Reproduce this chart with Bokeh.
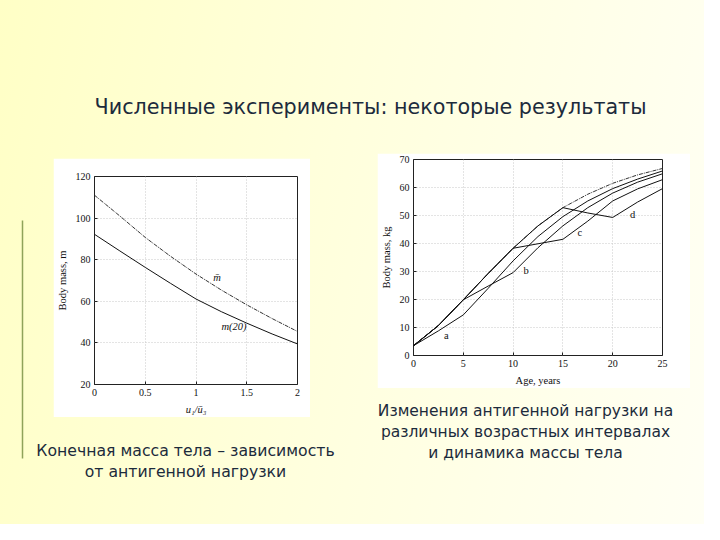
from bokeh.plotting import figure
from bokeh.layouts import column, row
from bokeh.models import Spacer, Label, Range1d
from bokeh.core.properties import value
from bokeh.embed import file_html
from bokeh.resources import INLINE

# ---------------- data ----------------
title_text = "Численные эксперименты: некоторые результаты"
left_caption = ["Конечная масса тела – зависимость", "от антигенной нагрузки"]
right_caption = ["Изменения антигенной нагрузки на",
                 "различных возрастных интервалах",
                 "и динамика массы тела"]

load_ratio = [0, 0.25, 0.5, 0.75, 1.0, 1.25, 1.5, 1.75, 2.0]
m_bar = [111.0, 101.0, 90.7, 81.6, 73.1, 65.4, 58.3, 51.7, 45.5]
m_20 = [92.2, 84.2, 76.3, 68.6, 61.1, 55.0, 49.5, 44.3, 39.5]
left_label_text = ["m̄", "m(20)"]
left_label_x = [1.17, 1.25]
left_label_y = [71.5, 48.0]

age = [0, 2.5, 5, 7.5, 10, 12.5, 15, 17.5, 20, 22.5, 25]
mass_base = [3.5, 10.7, 19.9, 29.3, 38.3, 46.3, 52.8, 57.6, 61.5, 64.5, 66.8]
mass_a = [3.5, 8.8, 14.5, 24.0, 33.8, 42.5, 49.6, 55.2, 59.6, 63.0, 65.9]
mass_b = [3.5, 10.7, 19.9, 24.8, 29.6, 38.5, 46.3, 52.8, 58.0, 61.9, 64.9]
mass_c = [3.5, 10.7, 19.9, 29.3, 38.3, 39.9, 41.5, 48.0, 55.2, 59.5, 62.8]
mass_d = [3.5, 10.7, 19.9, 29.3, 38.3, 46.3, 52.8, 50.9, 49.3, 54.8, 59.6]
right_label_text = ["a", "b", "c", "d"]
right_label_x = [3.3, 11.3, 16.7, 22.0]
right_label_y = [7.0, 30.5, 44.0, 50.5]

left_xticks = [0, 0.5, 1, 1.5, 2]
left_yticks = [20, 40, 60, 80, 100, 120]
right_xticks = [0, 5, 10, 15, 20, 25]
right_yticks = [0, 10, 20, 30, 40, 50, 60, 70]

# ---------------- styles ----------------
SERIF = "Liberation Serif"
SANS = "DejaVu Sans"
TXT = "#1c2b3c"
GREEN = "#8fa35a"


def blank(w, h):
    p = figure(width=w, height=h, x_range=Range1d(0, w), y_range=Range1d(h, 0),
               x_axis_type=None, y_axis_type=None, toolbar_location=None,
               output_backend="svg", min_border=0)
    p.grid.visible = False
    p.outline_line_color = None
    p.background_fill_color = None
    p.border_fill_color = None
    return p


def style_chart(p, xticks, yticks):
    p.background_fill_color = "white"
    p.border_fill_color = "white"
    p.outline_line_color = "#222222"
    p.outline_line_width = 1
    for ax in (p.xaxis[0], p.yaxis[0]):
        ax.axis_line_color = None
        ax.major_tick_in = 3
        ax.major_tick_out = 0
        ax.minor_tick_line_color = None
        ax.major_tick_line_color = "#222222"
        ax.major_label_text_font = SERIF
        ax.major_label_text_font_size = "10px"
        ax.major_label_text_color = "#111111"
        ax.axis_label_text_font = SERIF
        ax.axis_label_text_font_size = "10.5px"
        ax.axis_label_text_font_style = "normal"
        ax.axis_label_text_color = "#111111"
        ax.major_label_standoff = 4
        ax.axis_label_standoff = 5
    p.xaxis[0].ticker = xticks
    p.yaxis[0].ticker = yticks
    p.grid.grid_line_color = "#c8c8c8"
    p.grid.grid_line_dash = "1 2"
    p.grid.grid_line_width = 1


# ---------------- title ----------------
title_fig = blank(704, 153)
title_fig.add_layout(Label(x=370, y=153 - 106, x_units="screen", y_units="screen",
                           text=title_text, text_font=SANS, text_font_size="20.7px",
                           text_color=TXT, text_align="center", text_baseline="middle"))

# ---------------- left chart ----------------
lp = figure(width=257, height=259, x_range=Range1d(0, 2), y_range=Range1d(20, 120),
            toolbar_location=None, output_backend="svg",
            min_border_left=39, min_border_right=13, min_border_top=18, min_border_bottom=32,
            x_axis_label="u₁/ū₃", y_axis_label="Body mass, m")
style_chart(lp, left_xticks, left_yticks)
lp.xaxis[0].axis_label_text_font_style = "italic"
lp.line(load_ratio, m_bar, line_color="#333333", line_width=1, line_dash="4 1 1 1")
lp.line(load_ratio, m_20, line_color="#111111", line_width=1)
lp.text(x=left_label_x, y=left_label_y, text=left_label_text, text_font=value(SERIF),
        text_font_size="10.5px", text_font_style="italic", text_color="#111111",
        text_align="left", text_baseline="middle")

# ---------------- right chart ----------------
rp = figure(width=313, height=235, x_range=Range1d(0, 25), y_range=Range1d(0, 70),
            toolbar_location=None, output_backend="svg",
            min_border_left=35, min_border_right=28, min_border_top=6, min_border_bottom=33,
            x_axis_label="Age, years", y_axis_label="Body mass, kg")
style_chart(rp, right_xticks, right_yticks)
rp.line(age, mass_base, line_color="#333333", line_width=1, line_dash="4 1 1 1")
for series in (mass_a, mass_b, mass_c, mass_d):
    rp.line(age, series, line_color="#111111", line_width=1)
rp.text(x=right_label_x, y=right_label_y, text=right_label_text, text_font=value(SERIF),
        text_font_size="10.5px", text_color="#111111",
        text_align="center", text_baseline="middle")

# ---------------- side strip & captions ----------------
BOTTOM_H = 371
strip = blank(30, BOTTOM_H)
strip.segment(x0=[22], y0=[67], x1=[22], y1=[305], line_color=GREEN, line_width=1.5)

lcap = blank(315, BOTTOM_H - 5 - 259)
for i, t in enumerate(left_caption):
    lcap.add_layout(Label(x=155, y=(BOTTOM_H - 5 - 259) - (33 + 21 * i),
                          x_units="screen", y_units="screen",
                          text=t, text_font=SANS, text_font_size="15.7px", text_color=TXT,
                          text_align="center", text_baseline="middle"))

rcap = blank(359, BOTTOM_H - 235)
for i, t in enumerate(right_caption):
    rcap.add_layout(Label(x=180, y=(BOTTOM_H - 235) - (22 + 21 * i),
                          x_units="screen", y_units="screen",
                          text=t, text_font=SANS, text_font_size="15.5px", text_color=TXT,
                          text_align="center", text_baseline="middle"))

left_inner = column(Spacer(width=315, height=5),
                    row(Spacer(width=23, height=259), lp, Spacer(width=35, height=259), spacing=0),
                    lcap, spacing=0)
left_col = row(strip, left_inner, spacing=0)
right_col = column(row(Spacer(width=32, height=235), rp, Spacer(width=14, height=235), spacing=0),
                   rcap, spacing=0)

page = column(title_fig, row(left_col, right_col, spacing=0), spacing=0,
              width=704, height=524,
              styles={"background": "linear-gradient(100deg, #ffffc6 0%, #ffffdc 45%, #fffff4 100%)"})

open("out.html", "w").write(file_html(page, INLINE))
